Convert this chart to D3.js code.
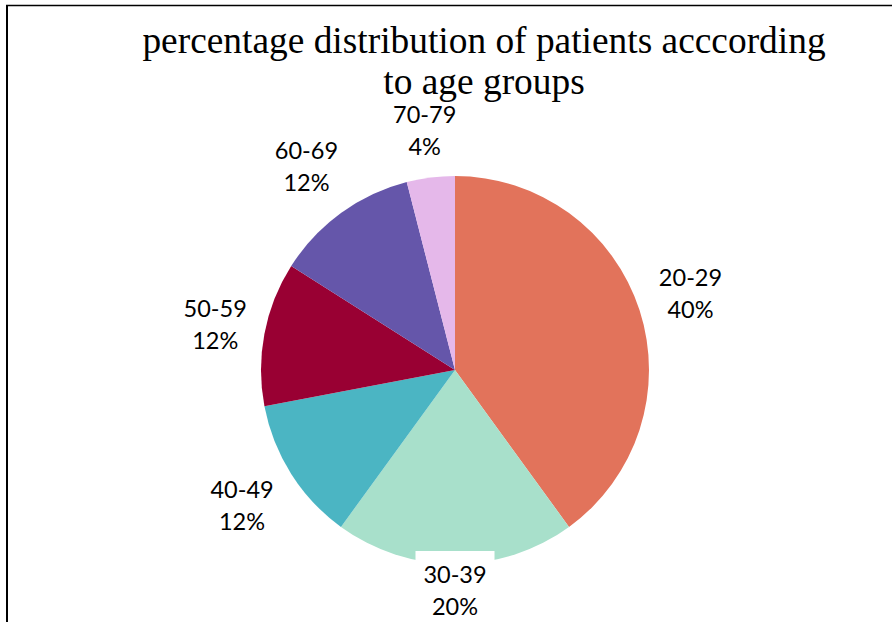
<!DOCTYPE html>
<html>
<head>
<meta charset="utf-8">
<script src="https://cdn.jsdelivr.net/npm/d3@7/dist/d3.min.js"></script>
<style>
  html, body { margin: 0; padding: 0; background: #fff; }
  svg { display: block; }
</style>
</head>
<body>
<svg id="chart" width="892" height="622"></svg>
<script>
// Age groups and their share of patients (%)
const ageGroups = ["20-29", "30-39", "40-49", "50-59", "60-69", "70-79"];
const shares = [40, 20, 12, 12, 12, 4];
const sliceColors = ["#E2735B", "#A8E0CB", "#4BB5C3", "#990033", "#6556AA", "#E5B8EA"];
const titleLines = ["percentage distribution of patients acccording", "to age groups"];

const W = 892, H = 622;
const svg = d3.select("#chart");

// frame edges
svg.append("line").attr("x1", 7).attr("x2", 7).attr("y1", 5).attr("y2", H)
  .attr("stroke", "#000").attr("stroke-width", 2);
svg.append("line").attr("x1", 6).attr("x2", W).attr("y1", 5.5).attr("y2", 5.5)
  .attr("stroke", "#000").attr("stroke-width", 1.5);

const cx = 455, cy = 370, R = 194;
const data = ageGroups.map((g, i) => ({ group: g, value: shares[i], color: sliceColors[i] }));

const pie = d3.pie().sort(null).value(d => d.value);
const arcs = pie(data);
const arc = d3.arc().innerRadius(0).outerRadius(R);

const g = svg.append("g").attr("transform", `translate(${cx},${cy})`);
g.selectAll("path.slice")
  .data(arcs)
  .enter().append("path")
  .attr("class", "slice")
  .attr("d", arc)
  .attr("fill", d => d.data.color);

// label boxes sit just outside the pie along each slice's mid-angle,
// pulled back inside the plot area when they would run off the bottom
const boxW = 79, boxH = 78, gap = 4;
const maxLabelY = 590 - cy;
function labelPos(d) {
  const a = (d.startAngle + d.endAngle) / 2;
  const s = Math.sin(a), c = Math.cos(a);
  const dist = R + gap + (boxH / 2) * Math.abs(c) + (boxW / 2) * Math.abs(s);
  let x = dist * s;
  let y = -dist * c;
  if (y > maxLabelY) y = maxLabelY;
  return [x, y];
}

const labels = g.selectAll("g.lbl")
  .data(arcs)
  .enter().append("g")
  .attr("class", "lbl")
  .attr("transform", d => `translate(${labelPos(d)})`);

labels.append("rect")
  .attr("x", -boxW / 2).attr("y", -boxH / 2).attr("width", boxW).attr("height", boxH)
  .attr("fill", "#fff");

const lt = labels.append("text")
  .attr("text-anchor", "middle")
  .attr("font-family", "Lato, 'Open Sans', sans-serif")
  .attr("font-size", 23.5)
  .attr("fill", "#000");
lt.append("tspan").attr("x", 0).attr("y", -7).text(d => d.data.group);
lt.append("tspan").attr("x", 0).attr("y", 25).text(d => d.data.value + "%");

// title, drawn last so it sits above the label backgrounds
const title = svg.append("text")
  .attr("text-anchor", "middle")
  .attr("font-family", "'Liberation Serif', 'Times New Roman', serif")
  .attr("font-size", 37.4)
  .attr("fill", "#000");
titleLines.forEach((t, i) => {
  title.append("tspan").attr("x", 484).attr("y", 53 + i * 41).text(t);
});
</script>
</body>
</html>
